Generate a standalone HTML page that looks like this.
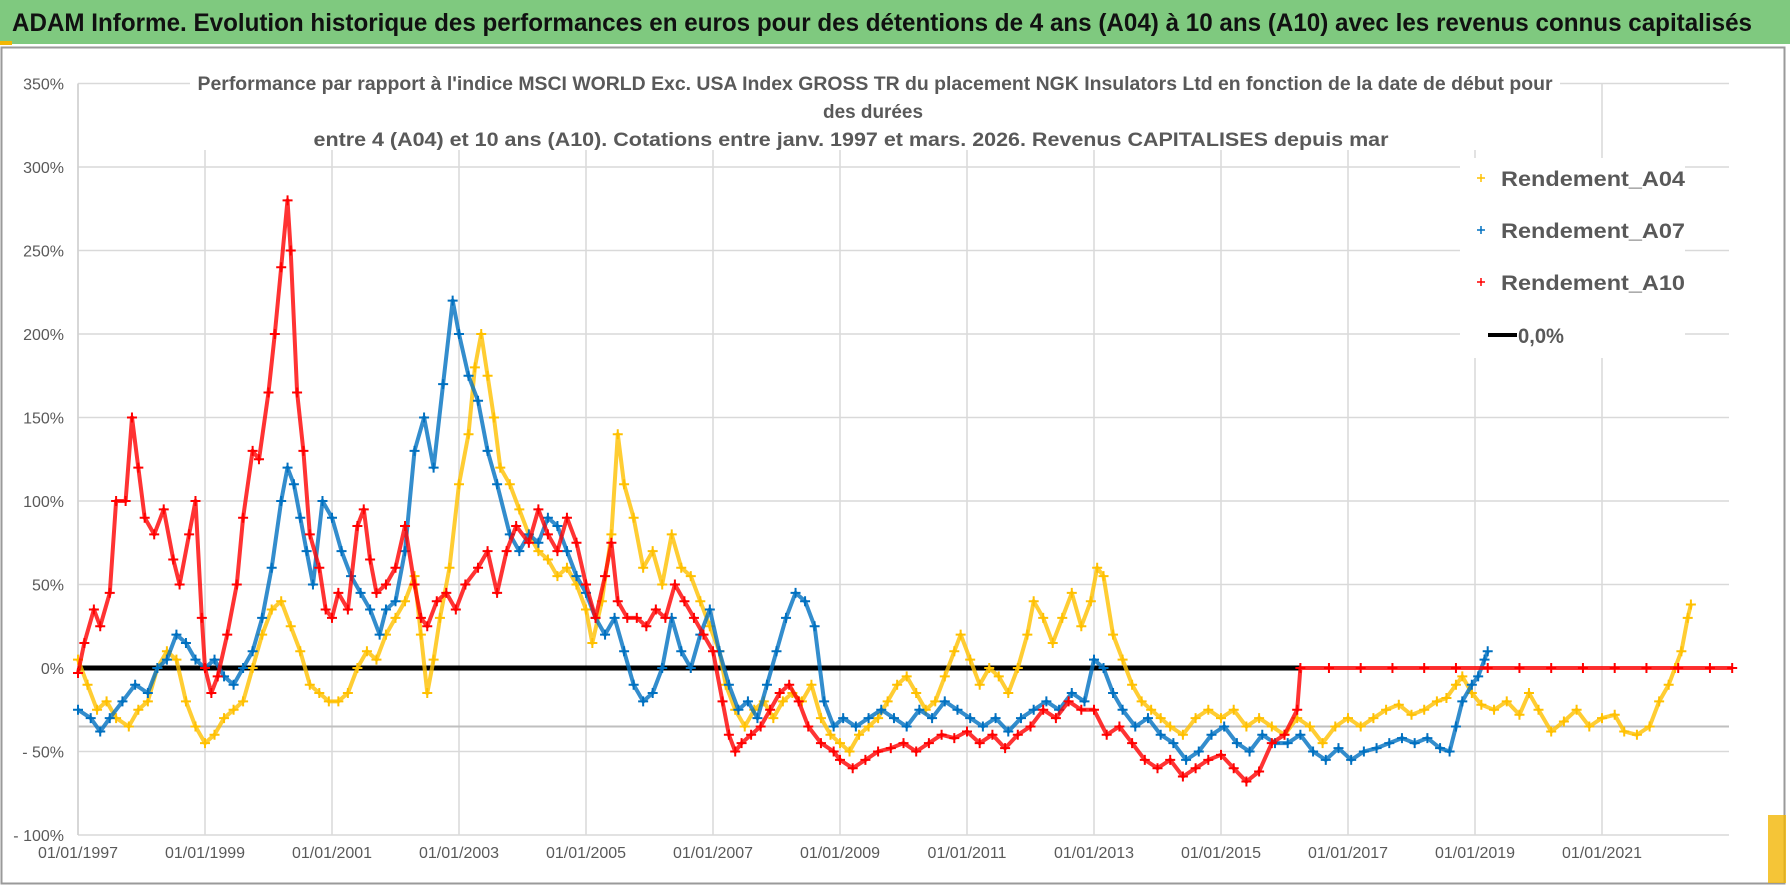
<!DOCTYPE html>
<html><head><meta charset="utf-8">
<style>
html,body{margin:0;padding:0;background:#fff;}
svg{display:block;font-family:"Liberation Sans",sans-serif;}
</style></head>
<body>
<svg id="chart" width="1790" height="886" viewBox="0 0 1790 886" xmlns="http://www.w3.org/2000/svg">
  <rect x="0" y="0" width="1790" height="886" fill="#fff"/>
  <rect x="0" y="0" width="1790" height="44" fill="#7fc97f"/>
  <rect x="0" y="41" width="12" height="4" fill="#f2b705"/>
  <text x="882" y="31" text-anchor="middle" font-size="25" font-weight="bold" fill="#111" textLength="1740" lengthAdjust="spacingAndGlyphs">ADAM Informe. Evolution historique des performances en euros pour des détentions de 4 ans (A04) à 10 ans (A10) avec les revenus connus capitalisés</text>
  <rect x="1.5" y="47.5" width="1783" height="836" fill="none" stroke="#9a9a9a" stroke-width="2"/>
  <rect x="1768" y="815" width="18" height="68" fill="#f2b705" opacity="0.8"/>
  <g id="grid"></g>
  <g id="ylabels"></g>
  <g id="xlabels"></g>
  <g id="series"></g>
  <g>
    <rect x="190" y="64" width="1370" height="86" fill="#fff"/>
    <text x="875" y="90" text-anchor="middle" font-size="19" font-weight="bold" fill="#595959" textLength="1355" lengthAdjust="spacingAndGlyphs">Performance par rapport à l'indice MSCI WORLD Exc. USA Index GROSS TR  du placement NGK Insulators Ltd en fonction de la date de début pour</text>
    <text x="873" y="118" text-anchor="middle" font-size="19" font-weight="bold" fill="#595959" textLength="100" lengthAdjust="spacingAndGlyphs">des durées</text>
    <text x="851" y="146" text-anchor="middle" font-size="19" font-weight="bold" fill="#595959" textLength="1075" lengthAdjust="spacingAndGlyphs">entre 4 (A04) et 10 ans (A10).  Cotations entre janv. 1997 et mars. 2026.  Revenus CAPITALISES  depuis mar</text>
  </g>
  <g>
    <rect x="1460" y="158" width="225" height="200" fill="#fff"/>
    <g>
      <path d="M1477 178h8M1481 174v8" stroke="#ffc000" stroke-width="1.5"/>
      <text x="1501" y="186" font-size="21" font-weight="bold" fill="#595959" textLength="184" lengthAdjust="spacingAndGlyphs">Rendement_A04</text>
    </g>
    <g>
      <path d="M1477 230h8M1481 226v8" stroke="#0070c0" stroke-width="1.5"/>
      <text x="1501" y="238" font-size="21" font-weight="bold" fill="#595959" textLength="184" lengthAdjust="spacingAndGlyphs">Rendement_A07</text>
    </g>
    <g>
      <path d="M1477 282h8M1481 278v8" stroke="#ff0000" stroke-width="1.5"/>
      <text x="1501" y="290" font-size="21" font-weight="bold" fill="#595959" textLength="184" lengthAdjust="spacingAndGlyphs">Rendement_A10</text>
    </g>
    <g>
      <line x1="1488" y1="335" x2="1517" y2="335" stroke="#000" stroke-width="4"/>
      <text x="1518" y="343" font-size="21" font-weight="bold" fill="#595959" textLength="46" lengthAdjust="spacingAndGlyphs">0,0%</text>
    </g>
  </g>
</svg>
<script>
// ---- data ----
const yTicks = [350,300,250,200,150,100,50,0,-50,-100];
const yTickLabels = ["350%","300%","250%","200%","150%","100%","50%","0%","- 50%","- 100%"];
const xTicks = [1997,1999,2001,2003,2005,2007,2009,2011,2013,2015,2017,2019,2021];
const xTickLabels = ["01/01/1997","01/01/1999","01/01/2001","01/01/2003","01/01/2005","01/01/2007","01/01/2009","01/01/2011","01/01/2013","01/01/2015","01/01/2017","01/01/2019","01/01/2021"];
const refLineValue = -35;
const zeroLineStart = 1997, zeroLineEnd = 2016.24;

const a10Dates = [1997.0,1997.1,1997.25,1997.35,1997.5,1997.6,1997.75,1997.85,1997.95,1998.05,1998.2,1998.35,1998.5,1998.6,1998.75,1998.85,1998.95,1999.0,1999.1,1999.2,1999.35,1999.5,1999.6,1999.75,1999.85,2000.0,2000.1,2000.2,2000.3,2000.35,2000.45,2000.55,2000.65,2000.8,2000.9,2001.0,2001.1,2001.25,2001.4,2001.5,2001.6,2001.7,2001.85,2002.0,2002.15,2002.3,2002.4,2002.5,2002.65,2002.8,2002.95,2003.1,2003.3,2003.45,2003.6,2003.75,2003.9,2004.1,2004.25,2004.4,2004.55,2004.7,2004.85,2005.0,2005.15,2005.3,2005.4,2005.5,2005.65,2005.8,2005.95,2006.1,2006.25,2006.4,2006.55,2006.7,2006.85,2007.0,2007.15,2007.25,2007.35,2007.45,2007.6,2007.75,2007.9,2008.05,2008.2,2008.35,2008.5,2008.7,2008.9,2009.0,2009.2,2009.4,2009.6,2009.8,2010.0,2010.2,2010.4,2010.6,2010.8,2011.0,2011.2,2011.4,2011.6,2011.8,2012.0,2012.2,2012.4,2012.6,2012.8,2013.0,2013.2,2013.4,2013.6,2013.8,2014.0,2014.2,2014.4,2014.6,2014.8,2015.0,2015.2,2015.4,2015.6,2015.8,2016.0,2016.2,2016.25,2016.7,2017.2,2017.7,2018.2,2018.7,2019.2,2019.7,2020.2,2020.7,2021.2,2021.7,2022.2,2022.7,2023.05];
const a10Values = [-3,15,35,25,45,100,100,150,120,90,80,95,65,50,80,100,30,0,-15,-5,20,50,90,130,125,165,200,240,280,250,165,130,80,60,35,30,45,35,85,95,65,45,50,60,85,50,30,25,40,45,35,50,60,70,45,70,85,75,95,80,70,90,75,50,30,55,75,40,30,30,25,35,30,50,40,30,20,10,-20,-40,-50,-45,-40,-35,-25,-15,-10,-20,-35,-45,-50,-55,-60,-55,-50,-48,-45,-50,-45,-40,-42,-38,-45,-40,-48,-40,-35,-25,-30,-20,-25,-25,-40,-35,-45,-55,-60,-55,-65,-60,-55,-52,-60,-68,-62,-45,-40,-25,0,0,0,0,0,0,0,0,0,0,0,0,0,0,0];

const a07Dates = [1997.0,1997.2,1997.35,1997.5,1997.7,1997.9,1998.1,1998.25,1998.4,1998.55,1998.7,1998.85,1999.0,1999.15,1999.3,1999.45,1999.6,1999.75,1999.9,2000.05,2000.2,2000.3,2000.4,2000.5,2000.6,2000.7,2000.85,2001.0,2001.15,2001.3,2001.45,2001.6,2001.75,2001.85,2002.0,2002.15,2002.3,2002.45,2002.6,2002.75,2002.9,2003.0,2003.15,2003.3,2003.45,2003.6,2003.8,2003.95,2004.1,2004.25,2004.4,2004.55,2004.7,2004.85,2005.0,2005.15,2005.3,2005.45,2005.6,2005.75,2005.9,2006.05,2006.2,2006.35,2006.5,2006.65,2006.8,2006.95,2007.1,2007.25,2007.4,2007.55,2007.7,2007.85,2008.0,2008.15,2008.3,2008.45,2008.6,2008.75,2008.9,2009.05,2009.25,2009.45,2009.65,2009.85,2010.05,2010.25,2010.45,2010.65,2010.85,2011.05,2011.25,2011.45,2011.65,2011.85,2012.05,2012.25,2012.45,2012.65,2012.85,2013.0,2013.15,2013.3,2013.45,2013.65,2013.85,2014.05,2014.25,2014.45,2014.65,2014.85,2015.05,2015.25,2015.45,2015.65,2015.85,2016.05,2016.25,2016.45,2016.65,2016.85,2017.05,2017.25,2017.45,2017.65,2017.85,2018.05,2018.25,2018.45,2018.6,2018.7,2018.8,2018.95,2019.05,2019.15,2019.2];
const a07Values = [-25,-30,-38,-30,-20,-10,-15,0,5,20,15,5,0,5,-5,-10,0,10,30,60,100,120,110,90,70,50,100,90,70,55,45,35,20,35,40,70,130,150,120,170,220,200,175,160,130,110,80,70,80,75,90,85,70,55,45,30,20,30,10,-10,-20,-15,0,30,10,0,20,35,10,-10,-25,-20,-30,-10,10,30,45,40,25,-20,-35,-30,-35,-30,-25,-30,-35,-25,-30,-20,-25,-30,-35,-30,-38,-30,-25,-20,-25,-15,-20,5,0,-15,-25,-35,-30,-40,-45,-55,-50,-40,-35,-45,-50,-40,-45,-45,-40,-50,-55,-48,-55,-50,-48,-45,-42,-45,-42,-48,-50,-35,-20,-10,-5,5,10];

const a04Dates = [1997.0,1997.15,1997.3,1997.45,1997.6,1997.8,1997.95,1998.1,1998.25,1998.4,1998.55,1998.7,1998.85,1999.0,1999.15,1999.3,1999.45,1999.6,1999.75,1999.9,2000.05,2000.2,2000.35,2000.5,2000.65,2000.8,2000.95,2001.1,2001.25,2001.4,2001.55,2001.7,2001.85,2002.0,2002.15,2002.3,2002.4,2002.5,2002.6,2002.7,2002.85,2003.0,2003.15,2003.25,2003.35,2003.45,2003.55,2003.65,2003.8,2003.95,2004.1,2004.25,2004.4,2004.55,2004.7,2004.85,2005.0,2005.1,2005.25,2005.4,2005.5,2005.6,2005.75,2005.9,2006.05,2006.2,2006.35,2006.5,2006.65,2006.8,2006.95,2007.1,2007.2,2007.35,2007.5,2007.65,2007.8,2007.95,2008.1,2008.25,2008.4,2008.55,2008.7,2008.85,2009.0,2009.15,2009.3,2009.45,2009.6,2009.75,2009.9,2010.05,2010.2,2010.35,2010.5,2010.65,2010.8,2010.9,2011.05,2011.2,2011.35,2011.5,2011.65,2011.8,2011.95,2012.05,2012.2,2012.35,2012.5,2012.65,2012.8,2012.95,2013.05,2013.15,2013.3,2013.45,2013.6,2013.75,2013.9,2014.05,2014.2,2014.4,2014.6,2014.8,2015.0,2015.2,2015.4,2015.6,2015.8,2016.0,2016.2,2016.4,2016.6,2016.8,2017.0,2017.2,2017.4,2017.6,2017.8,2018.0,2018.2,2018.4,2018.55,2018.7,2018.8,2018.95,2019.1,2019.3,2019.5,2019.7,2019.85,2020.0,2020.2,2020.4,2020.6,2020.8,2021.0,2021.2,2021.35,2021.55,2021.75,2021.9,2022.05,2022.15,2022.25,2022.35,2022.4];
const a04Values = [5,-10,-25,-20,-30,-35,-25,-20,0,10,5,-20,-35,-45,-40,-30,-25,-20,0,20,35,40,25,10,-10,-15,-20,-20,-15,0,10,5,20,30,40,55,20,-15,5,30,60,110,140,180,200,175,150,120,110,95,80,70,65,55,60,50,35,15,40,80,140,110,90,60,70,50,80,60,55,40,25,10,-10,-25,-35,-25,-20,-30,-20,-15,-20,-10,-30,-40,-45,-50,-40,-35,-30,-20,-10,-5,-15,-25,-20,-5,10,20,5,-10,0,-5,-15,0,20,40,30,15,30,45,25,40,60,55,20,5,-10,-20,-25,-30,-35,-40,-30,-25,-30,-25,-35,-30,-35,-40,-30,-35,-45,-35,-30,-35,-30,-25,-22,-28,-25,-20,-18,-10,-5,-15,-22,-25,-20,-28,-15,-25,-38,-32,-25,-35,-30,-28,-38,-40,-35,-20,-10,0,10,30,38];

// ---- axes ----
const X0 = 78, PX_PER_YEAR = 63.5, XRIGHT = 1729;
const Y0 = 668, PX_PER_PCT = 1.67;
function xs(yr){ return X0 + (yr - 1997) * PX_PER_YEAR; }
function ys(v){ return Y0 - v * PX_PER_PCT; }

const NS = "http://www.w3.org/2000/svg";
function mk(tag, attrs, parent){
  const e = document.createElementNS(NS, tag);
  for (const k in attrs) e.setAttribute(k, attrs[k]);
  parent.appendChild(e);
  return e;
}
const grid = document.getElementById('grid');
const yl = document.getElementById('ylabels');
const xl = document.getElementById('xlabels');
const ser = document.getElementById('series');

yTicks.forEach((t, i) => {
  const ln = mk('line', {x1: X0, x2: XRIGHT, y1: ys(t), y2: ys(t), stroke: '#d9d9d9', 'stroke-width': 1.5}, grid);
  
  
  const tx = mk('text', {x: 64, y: ys(t) + 6, 'text-anchor': 'end', 'font-size': 16, fill: '#595959'}, yl);
  tx.textContent = yTickLabels[i];
  
  
});
xTicks.forEach((t, i) => {
  const ln = mk('line', {x1: xs(t), x2: xs(t), y1: ys(350), y2: ys(-100), stroke: '#d9d9d9', 'stroke-width': 1.5}, grid);
  
  
  const tx = mk('text', {x: xs(t), y: 858, 'text-anchor': 'middle', 'font-size': 16, fill: '#595959'}, xl);
  tx.textContent = xTickLabels[i];
  
  
});
const ref = mk('line', {x1: X0, x2: XRIGHT, y1: ys(refLineValue), y2: ys(refLineValue), stroke: '#bfbfbf', 'stroke-width': 2}, grid);


const yax = mk('line', {x1: X0, x2: X0, y1: ys(350), y2: ys(-100), stroke: '#d0d0d0', 'stroke-width': 1.5}, grid);



const zl = mk('line', {x1: xs(zeroLineStart), x2: xs(zeroLineEnd), y1: ys(0), y2: ys(0), stroke: '#000', 'stroke-width': 5}, ser);



function drawSeries(dates, values, color, name){
  const g = mk('g', {}, ser);
  
  
  const pts = dates.map((d, i) => xs(d).toFixed(1) + ',' + ys(values[i]).toFixed(1)).join(' ');
  const pl = mk('polyline', {points: pts, fill: 'none', stroke: color, 'stroke-width': 4, 'stroke-linejoin': 'round', opacity: 0.8}, g);
  
  
  dates.forEach((d, i) => {
    const x = xs(d), y = ys(values[i]);
    const p = mk('path', {d: `M${x-5} ${y}h10M${x} ${y-5}v10`, stroke: color, 'stroke-width': 2}, g);
    
    
  });
}
drawSeries(a04Dates, a04Values, '#ffc000', 'series-a04');
drawSeries(a07Dates, a07Values, '#0070c0', 'series-a07');
drawSeries(a10Dates, a10Values, '#ff0000', 'series-a10');
</script>
</body></html>
